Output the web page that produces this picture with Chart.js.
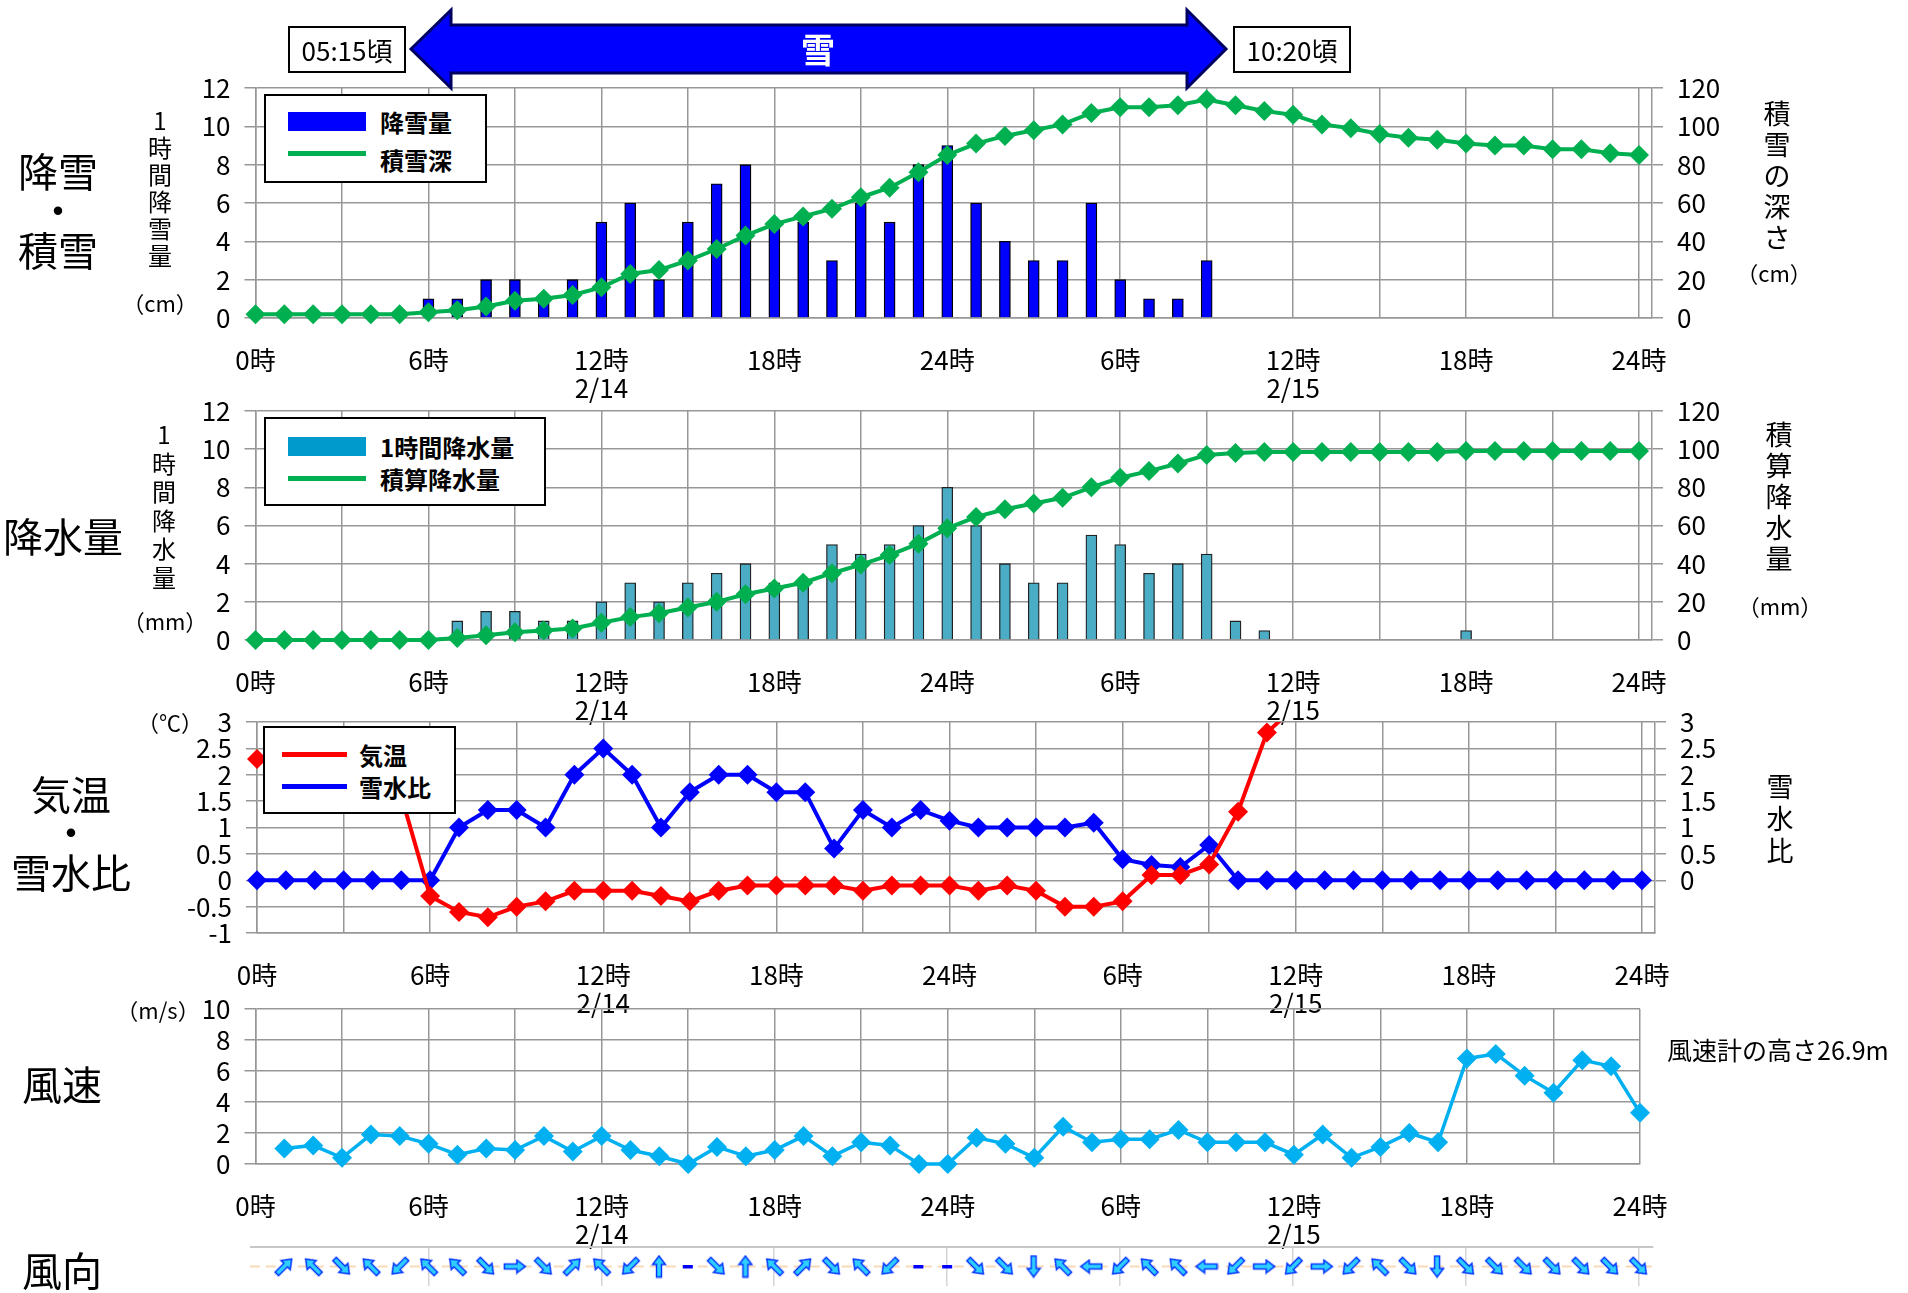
<!DOCTYPE html>
<html lang="ja"><head><meta charset="utf-8">
<script src="https://cdn.jsdelivr.net/npm/chart.js@4.4.1/dist/chart.umd.min.js"></script>
<style>
html,body{margin:0;padding:0;background:#fff;}
body{width:1908px;height:1293px;position:relative;overflow:hidden;font-family:"Noto Sans CJK JP","Noto Sans",sans-serif;color:#000;}
canvas{position:absolute;left:0;}
.c{position:absolute;white-space:nowrap;line-height:1;transform:translate(-50%,-50%);z-index:6;}
.l{position:absolute;white-space:nowrap;line-height:1;transform:translateY(-50%);z-index:6;}
.v{position:absolute;text-align:center;transform:translateX(-50%);z-index:6;}
.box{position:absolute;background:#fff;border:2px solid #000;box-sizing:border-box;z-index:5;}
.sw{position:absolute;z-index:6;}
</style></head><body>

<svg style="position:absolute;left:0;top:0;z-index:4" width="1908" height="100">
  <polygon points="411,49 451,10 451,25 1187,25 1187,10 1226,49 1187,88 1187,73 451,73 451,88" fill="#0000FF" stroke="#000060" stroke-width="3" stroke-linejoin="miter"/>
</svg>

<canvas id="c1"></canvas><canvas id="c2"></canvas><canvas id="c3"></canvas><canvas id="c4"></canvas><canvas id="c5"></canvas>

<script>
// ---------------- data ----------------
const hours = [0,1,2,3,4,5,6,7,8,9,10,11,12,13,14,15,16,17,18,19,20,21,22,23,24,25,26,27,28,29,30,31,32,33,34,35,36,37,38,39,40,41,42,43,44,45,46,47,48];
const xTickHours = [0,6,12,18,24,30,36,42,48];
const xTickText = [['0時'],['6時'],['12時','2/14'],['18時'],['24時'],['6時'],['12時','2/15'],['18時'],['24時']];

// 1時間降雪量 (cm)
const snowfall = [null,null,null,null,null,null,1,1,2,2,1,2,5,6,2,5,7,8,5,5,3,6,5,8,9,6,4,3,3,6,2,1,1,3,null,null,null,null,null,null,null,null,null,null,null,null,null,null,null];
// 積雪深 (cm)
const snowDepth = [2,2,2,2,2,2,3,4,6,9,10,12,16,23,25,30,36,43,49,53,57,63,68,76,85,91,95,98,101,107,110,110,111,114,111,108,106,101,99,96,94,93,91,90,90,88,88,86,85];
// 1時間降水量 (mm)
const precip = [null,null,null,null,null,null,null,1,1.5,1.5,1,1,2,3,2,3,3.5,4,3,3,5,4.5,5,6,8,6,4,3,3,5.5,5,3.5,4,4.5,1,0.5,null,null,null,null,null,null,0.5,null,null,null,null,null,null];
// 積算降水量 (mm)
const precipTotal = [0,0,0,0,0,0,0,1,2.5,4,5,6,9,12,14,17,20,24,27,30,35,39.5,44.5,50.5,58.5,64.5,68.5,71.5,74.5,80,85,88.5,92.5,97,98,98.5,98.5,98.5,98.5,98.5,98.5,98.5,99,99,99,99,99,99,99];
// 気温 (℃)
const temperature = [2.3,2.2,2.1,2.0,1.9,1.6,-0.3,-0.6,-0.7,-0.5,-0.4,-0.2,-0.2,-0.2,-0.3,-0.4,-0.2,-0.1,-0.1,-0.1,-0.1,-0.2,-0.1,-0.1,-0.1,-0.2,-0.1,-0.2,-0.5,-0.5,-0.4,0.1,0.1,0.3,1.3,2.8,3.3,null,null,null,null,null,null,null,null,null,null,null,null];
// 雪水比
const snowWaterRatio = [0,0,0,0,0,0,0,1,1.33,1.33,1,2,2.5,2,1,1.67,2,2,1.67,1.67,0.6,1.33,1,1.33,1.13,1,1,1,1,1.09,0.4,0.29,0.25,0.67,0,0,0,0,0,0,0,0,0,0,0,0,0,0,0];
// 風速 (m/s)
const windSpeed = [null,1.0,1.2,0.4,1.9,1.8,1.3,0.6,1.0,0.9,1.8,0.8,1.8,0.9,0.5,0,1.1,0.5,0.9,1.8,0.5,1.4,1.2,0,0,1.7,1.3,0.4,2.4,1.4,1.6,1.6,2.2,1.4,1.4,1.4,0.6,1.9,0.4,1.1,2.0,1.4,6.8,7.1,5.7,4.6,6.7,6.3,3.3];
// 風向 (16方位, 静穏)
const windDir = [null,'南西','南東','北西','南東','北東','南東','南東','北西','西','北西','南西','南東','北東','南','静穏','北西','南','南東','南西','北西','南東','北東','静穏','静穏','北西','北西','北','南東','東','北東','南東','南東','東','北東','西','北東','西','北東','南東','北西','北','北西','北西','北西','北西','北西','北西','北西'];
const dir16 = ['北','北北東','北東','東北東','東','東南東','南東','南南東','南','南南西','南西','西南西','西','西北西','北西','北北西'];

// ---------------- helpers ----------------
const FONT = '"Noto Sans CJK JP","Noto Sans",sans-serif';
const GRID = '#979797';
Chart.defaults.font.family = FONT;
Chart.defaults.color = '#000';

function pts(arr){ return hours.map((h,i)=>({x:h, y:arr[i]})); }

function xAxis(min, max, opts={}){
  return Object.assign({
    type:'linear', min, max, position:'bottom', offset:false,
    afterBuildTicks: s => { s.ticks = hours.filter(h => h % 3 === 0).map(v => ({value:v})); },
    afterFit: s => { s.height = 90; },
    ticks:{ autoSkip:false, maxRotation:0, padding:28, color:'#000', font:{size:26, lineHeight:1.08},
      callback: v => { const k = xTickHours.indexOf(v); return k < 0 ? '' : xTickText[k]; } },
    grid:{ color:GRID, lineWidth:1.5, drawTicks:false, offset:false },
    border:{ display:true, color:GRID, width:1.5 }
  }, opts);
}
function yAxis(pos, min, max, step, tickMin){
  const tm = tickMin === undefined ? min : tickMin;
  return {
    type:'linear', position:pos, min, max,
    afterBuildTicks: s => { const t=[]; for (let v = tm; v <= max + 1e-9; v += step) t.push({value: Math.round(v*100)/100}); s.ticks = t; },
    afterFit: s => { s.width = 90; },
    ticks:{ color:'#000', font:{size:26}, padding:14, autoSkip:false, callback: v => String(v) },
    grid:{ color:GRID, lineWidth:1.5, tickLength:11, drawOnChartArea: pos === 'left', drawTicks:true },
    border:{ display:true, color:GRID, width:1.5 }
  };
}
function setup(id, area, right, xh){
  const cv = document.getElementById(id);
  const top = area.top - 40;
  const h = Math.ceil(area.bottom - top + xh);
  cv.style.top = top + 'px';
  cv.width = 1908; cv.height = h;
  cv.style.width = '1908px'; cv.style.height = h + 'px';
  return { cv, padding:{ top:40, bottom:0, left: area.left - (area.yw ?? 90), right: 1908 - area.right - (right ? 90 : 0) } };
}
const base = { responsive:false, animation:false, devicePixelRatio:1, plugins:{ legend:{display:false}, tooltip:{enabled:false} } };
function lineDS(label, data, color, axis, extra={}){
  return Object.assign({ type:'line', label, data:pts(data), yAxisID:axis, borderColor:color, backgroundColor:color,
    borderWidth:4, pointStyle:'rectRot', pointRadius:10, pointBorderWidth:0, tension:0, order:0, clip:false, spanGaps:false }, extra);
}

// ---------------- panel 1: 降雪・積雪 ----------------
(function(){
  const s = setup('c1', {left:255.5, right:1652, top:87.6, bottom:317.6}, true, 90);
  new Chart(s.cv, { type:'bar',
    data:{ datasets:[
      lineDS('積雪深', snowDepth, '#00B050', 'y2'),
      { type:'bar', label:'降雪量', data:pts(snowfall), yAxisID:'y', backgroundColor:'#0000FF', borderColor:'#000', borderWidth:1.3, barThickness:11, order:1 }
    ]},
    options: Object.assign({}, base, { layout:{padding:s.padding},
      scales:{ x: xAxis(0, 48.45), y: yAxis('left',0,12,2), y2: yAxis('right',0,120,20) } })
  });
})();

// ---------------- panel 2: 降水量 ----------------
(function(){
  const s = setup('c2', {left:255.5, right:1652, top:411.3, bottom:640}, true, 90);
  new Chart(s.cv, { type:'bar',
    data:{ datasets:[
      lineDS('積算降水量', precipTotal, '#00B050', 'y2'),
      { type:'bar', label:'1時間降水量', data:pts(precip), yAxisID:'y', backgroundColor:'#4BACC6', borderColor:'#222', borderWidth:1.3, barThickness:11, order:1 }
    ]},
    options: Object.assign({}, base, { layout:{padding:s.padding},
      scales:{ x: xAxis(0, 48.45), y: yAxis('left',0,12,2), y2: yAxis('right',0,120,20) } })
  });
})();

// ---------------- panel 3: 気温・雪水比 ----------------
(function(){
  const s = setup('c3', {left:257, right:1655, top:721.6, bottom:932}, true, 90);
  new Chart(s.cv, { type:'line',
    data:{ datasets:[
      lineDS('気温', temperature, '#FF0000', 'y', { order:0, clip:{left:false, right:false, top:0, bottom:false} }),
      lineDS('雪水比', snowWaterRatio, '#0000FF', 'y2', { order:1 })
    ]},
    options: Object.assign({}, base, { layout:{padding:s.padding},
      scales:{ x: xAxis(0, 48.45), y: yAxis('left',-1,3,0.5), y2: yAxis('right',-1,3,0.5,0) } })
  });
})();

// ---------------- panel 4: 風速 ----------------
(function(){
  const s = setup('c4', {left:255.5, right:1640, top:1008.7, bottom:1163.3}, false, 90);
  new Chart(s.cv, { type:'line',
    data:{ datasets:[ lineDS('風速', windSpeed, '#00B0F0', 'y', { borderWidth:3.5 }) ]},
    options: Object.assign({}, base, { layout:{padding:s.padding},
      scales:{ x: xAxis(0, 48), y: yAxis('left',0,10,2) } })
  });
})();

// ---------------- panel 5: 風向 ----------------
(function(){
  function arrow(){
    const c = document.createElement('canvas'); c.width = 16; c.height = 24;
    const g = c.getContext('2d');
    g.beginPath(); g.moveTo(8,1.5); g.lineTo(14.5,10); g.lineTo(10.5,10); g.lineTo(10.5,22.5); g.lineTo(5.5,22.5); g.lineTo(5.5,10); g.lineTo(1.5,10); g.closePath();
    g.fillStyle = '#2FD0FF'; g.fill(); g.strokeStyle = '#0030FF'; g.lineWidth = 1.4; g.stroke();
    return c;
  }
  function calm(){
    const c = document.createElement('canvas'); c.width = 12; c.height = 5;
    const g = c.getContext('2d'); g.fillStyle = '#0000FF'; g.fillRect(1,1,10,3.5); return c;
  }
  const A = arrow(), C = calm();
  const s = setup('c5', {left:249.7, right:1653.3, top:1247, bottom:1296, yw:0}, false, 0);
  s.padding.right = 1908 - 1653.3;
  new Chart(s.cv, { type:'line',
    data:{ datasets:[
      { label:'風向', data: hours.map((h,i)=>({x:h, y: windDir[i] ? 0.5 : null})), showLine:false, order:0, clip:false,
        pointRadius:9, pointStyle: c => windDir[c.dataIndex] === '静穏' ? C : A,
        rotation: c => { const d = windDir[c.dataIndex]; const k = dir16.indexOf(d); return k < 0 ? 0 : (k*22.5 + 180) % 360; } },
      { label:'base', data:[{x:-0.2,y:0.5},{x:48.5,y:0.5}], borderColor:'#F9D9B5', borderWidth:2, borderDash:[10,6], pointRadius:0, order:1 }
    ]},
    options: Object.assign({}, base, { layout:{padding:s.padding},
      scales:{
        x:{ type:'linear', min:-0.2, max:48.5, afterFit: sc => { sc.height = 0; },
            afterBuildTicks: sc => { sc.ticks = [6,12,18,24,30,36,42,48].map(v=>({value:v})); },
            ticks:{display:false}, grid:{color:'#d4d4d4', lineWidth:1.5, drawTicks:false}, border:{display:false} },
        y:{ type:'linear', min:0, max:1, afterFit: sc => { sc.width = 0; },
            afterBuildTicks: sc => { sc.ticks = [{value:1}]; },
            ticks:{display:false}, grid:{color:'#c8c8c8', lineWidth:2, drawTicks:false}, border:{display:false} }
      } })
  });
})();

// ---------------- texts ----------------
function T(cls, txt, x, y, css){ const d = document.createElement('div'); d.className = cls; d.textContent = txt; d.style.left = x + 'px'; d.style.top = y + 'px'; if (css) d.style.cssText += css; document.body.appendChild(d); return d; }
function V(txt, cx, top, size, lh){ const d = document.createElement('div'); d.className = 'v'; d.innerHTML = Array.from(txt).join('<br>'); d.style.left = cx + 'px'; d.style.top = top + 'px'; d.style.fontSize = size + 'px'; d.style.lineHeight = lh + 'px'; document.body.appendChild(d); }
function B(x, y, w, h){ const d = document.createElement('div'); d.className = 'box'; d.style.cssText += `left:${x}px;top:${y}px;width:${w}px;height:${h}px`; document.body.appendChild(d); }
function S(x, y, w, h, color, border){ const d = document.createElement('div'); d.className = 'sw'; d.style.cssText += `left:${x}px;top:${y}px;width:${w}px;height:${h}px;background:${color};` + (border ? 'box-sizing:border-box;border:1px solid ' + border : ''); document.body.appendChild(d); }

// top arrow labels
T('c', '雪', 818, 49, 'font-size:34px;font-weight:bold;color:#fff;');
B(288, 26, 118, 47); T('c', '05:15頃', 347, 49.5, 'font-size:26px;');
B(1233, 26, 118, 47); T('c', '10:20頃', 1292, 49.5, 'font-size:26px;');

// left big titles
const big = 'font-size:40px;';
T('c', '降雪', 58, 170, big); T('c', '・', 58, 209, big); T('c', '積雪', 58, 249, big);
T('c', '降水量', 63, 535, big);
T('c', '気温', 71, 793, big); T('c', '・', 71, 831, big); T('c', '雪水比', 71, 871, big);
T('c', '風速', 62, 1083, big);
T('c', '風向', 62, 1269, big);

// axis titles
V('1時間降雪量', 160, 106, 24, 27); T('c', '（cm）', 160, 302, 'font-size:22px;');
V('積雪の深さ', 1777, 97, 27, 31); T('c', '（cm）', 1774, 272, 'font-size:22px;');
V('1時間降水量', 164, 420, 24, 28.5); T('c', '（mm）', 165, 620, 'font-size:22px;');
V('積算降水量', 1779, 418, 27, 31); T('c', '（mm）', 1780, 605, 'font-size:22px;');
T('c', '（℃）', 170, 721, 'font-size:22px;');
V('雪水比', 1780, 770, 27, 32);
T('c', '（m/s）', 158, 1009, 'font-size:22px;');
T('l', '風速計の高さ26.9m', 1667, 1049, 'font-size:25px;letter-spacing:0px;');

// legends
const lg = 'font-size:24px;font-weight:bold;';
B(264, 94, 223, 89);
S(288, 112, 78, 19, '#0000FF'); T('l', '降雪量', 380, 122, lg);
S(288, 151, 78, 5, '#00B050'); T('l', '積雪深', 380, 160, lg);
B(264, 417, 282, 89);
S(288, 437, 78, 19, '#009ACD'); T('l', '1時間降水量', 380, 447, lg);
S(288, 476, 78, 5, '#00B050'); T('l', '積算降水量', 380, 479, lg);
B(263, 726, 193, 88);
S(282, 752, 65, 5, '#FF0000'); T('l', '気温', 359, 755, lg);
S(282, 784, 65, 5, '#0000FF'); T('l', '雪水比', 359, 787, lg);
</script>
</body></html>
